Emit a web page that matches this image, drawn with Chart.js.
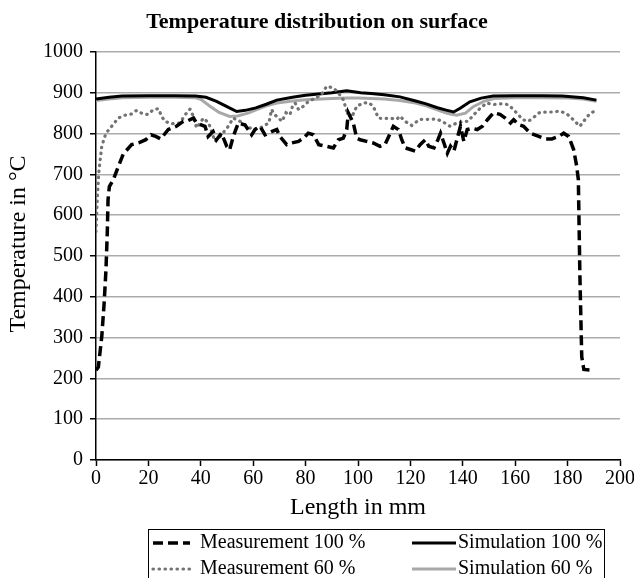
<!DOCTYPE html>
<html lang="en">
<head>
<meta charset="UTF-8">
<title>Temperature distribution on surface</title>
<style>
    html, body { margin: 0; padding: 0; background: #fff; }
</style>
</head>
<body>
<canvas id="tempChart" width="634" height="578"></canvas>

<script src="https://cdn.jsdelivr.net/npm/chart.js"></script>
<script>
    // values (x in mm, y in °C)
    const meas100X = [0, 0.9, 2.2, 3.1, 3.8, 4.3, 4.6, 5.1, 6.6, 8.5, 10.4, 13.6, 16.5, 19, 21, 22.8, 24.7, 27.6, 30.7, 33.3,
        35.2, 37.2, 38.4, 41.6, 42.8, 44.7, 46, 47.9, 49.9, 51, 52.4, 54.3, 56.9, 59.4, 60.7, 62.6, 64.5, 67, 69, 70.2,
        72.8, 74.7, 77.3, 79.2, 81, 83, 85, 88, 90.6, 92.5, 94.4, 95.7, 96.3, 98.2, 99.5, 100.8, 103.3, 105.8, 108.4, 110.3,
        112.3, 113.5, 115.4, 116.7, 118, 120, 121.8, 123.7, 125.7, 127, 129, 130.5, 131.5, 132.8, 134.1, 135.3, 136.6, 137.9, 139.1, 140.4,
        141.7, 143.6, 145.5, 147.5, 149.4, 151.7, 154.2, 156.2, 158.2, 159.4, 161.3, 163.2, 165.8, 169, 171.5, 174, 176.6, 178.5, 180.4, 182.3,
        183.5, 184.1, 184.7, 185.4, 186.2, 190];
    const meas100Y = [220, 228, 302, 384, 466, 556, 638, 670, 687, 719, 750, 773, 778, 785, 797, 793, 787, 810, 818, 830,
        832, 838, 826, 818, 793, 805, 785, 801, 769, 760, 793, 826, 821, 797, 810, 818, 797, 805, 810, 793,
        773, 777, 781, 789, 801, 797, 773, 769, 765, 785, 789, 810, 851, 826, 789, 785, 781, 777, 769, 773,
        801, 818, 810, 785, 765, 761, 757, 773, 785, 769, 765, 785, 801, 777, 752, 769, 757, 789, 818, 781,
        810, 813, 810, 818, 834, 851, 847, 838, 826, 834, 822, 818, 801, 793, 787, 787, 793, 801, 793, 761,
        719, 687, 450, 253, 222, 220];

    const meas60X = [0, 0.5, 1, 1.5, 2.2, 3.8, 6, 8.5, 11, 13.5, 15.5, 18, 19.8, 21.9, 23.8, 25.1, 26.3, 28.9, 32, 34,
        35.9, 37.2, 38.4, 41, 43, 45.4, 47.3, 50.5, 52.4, 55, 57.5, 60, 63, 66, 67, 68.3, 71, 72.5, 74, 75,
        76, 77.3, 79.2, 80.4, 83, 86, 88, 90.6, 92.5, 94.4, 95.7, 97.6, 99.5, 102, 104, 105.8, 107.8, 109.7, 112.3, 114.8,
        116, 118, 120.5, 123.6, 127.5, 130, 132.6, 135.1, 137.7, 140, 142, 144, 146.6, 149.1, 151.7, 154.2, 157.4, 159.3, 161.2, 163,
        165, 167.5, 169.4, 172, 174.5, 177, 179.6, 181.5, 183.4, 184.7, 186.6, 188.5, 190.5];
    const meas60Y = [560, 640, 700, 730, 769, 801, 818, 838, 845, 848, 857, 848, 847, 859, 861, 842, 830, 824, 826, 846,
        860, 842, 814, 838, 826, 781, 792, 818, 838, 830, 818, 810, 815, 826, 859, 846, 830, 851, 846, 867,
        875, 859, 867, 875, 885, 895, 916, 912, 900, 883, 855, 840, 867, 875, 876, 867, 838, 837, 838, 835,
        843, 830, 820, 835, 835, 836, 828, 818, 826, 830, 830, 845, 862, 875, 871, 873, 871, 859, 846, 834,
        830, 842, 852, 853, 853, 855, 849, 838, 826, 818, 834, 849, 856];

    const sim100X = [0, 5, 10, 20, 30, 38, 42, 46, 50, 53.7, 57, 61, 65, 69, 75, 80, 85, 90, 95.7, 97,
        101, 105, 110, 116, 122, 126, 130, 134, 136.5, 139, 142.7, 147, 151.6, 160, 170, 178, 186, 191];
    const sim100Y = [885, 889, 892, 893, 893, 892, 889, 879, 866, 854, 857, 863, 872, 882, 889, 894, 897, 900, 905, 904,
        900, 898, 895, 890, 880, 873, 864, 857, 853, 862, 878, 887, 892, 893, 893, 892, 888, 882];

    const sim60X = [0, 5, 10, 20, 30, 38, 40, 43.5, 47, 51, 54, 58, 61.3, 65, 69, 75, 80, 90, 95.7, 100,
        105, 110, 116, 122, 126, 130, 134, 137.7, 141, 144, 148, 152, 160, 170, 180, 186, 191];
    const sim60Y = [881, 885, 888, 889, 889, 888, 884, 867, 852, 842, 843, 850, 859, 868, 875, 880, 883, 886, 887, 887,
        886, 885, 881, 875, 868, 859, 850, 845, 850, 866, 879, 886, 888, 888, 887, 885, 879];

    const seriesLabels = ['Measurement 100 %', 'Measurement 60 %', 'Simulation 100 %', 'Simulation 60 %'];
    const xTicks = [0, 200, 20];   // min, max, step
    const yTicks = [0, 1000, 100];

    const serif = "'Liberation Serif', 'Times New Roman', serif";

    function toPoints(xs, ys) {
        return xs.map((x, i) => ({ x: x, y: ys[i] }));
    }

    // boxed two-column legend under the axis
    const boxLegend = {
        id: 'boxLegend',
        afterDraw(chart) {
            const ctx = chart.ctx;
            ctx.save();
            ctx.strokeStyle = '#000';
            ctx.lineWidth = 1;
            ctx.setLineDash([]);
            ctx.strokeRect(148.5, 529.5, 456, 70);

            const cols = [{ x0: 153, x1: 190, tx: 200 }, { x0: 412, x1: 456, tx: 458 }];
            const rows = [543, 569];
            chart.data.datasets.forEach((ds, i) => {
                const c = cols[i < 2 ? 0 : 1];
                const y = rows[i % 2];
                ctx.beginPath();
                ctx.setLineDash(ds.borderDash || []);
                ctx.lineCap = ds.borderCapStyle || 'butt';
                ctx.lineWidth = ds.borderWidth;
                ctx.strokeStyle = ds.borderColor;
                ctx.moveTo(c.x0, y);
                ctx.lineTo(c.x1, y);
                ctx.stroke();

                ctx.setLineDash([]);
                ctx.fillStyle = '#000';
                ctx.font = '20px ' + serif;
                ctx.textBaseline = 'middle';
                ctx.textAlign = 'left';
                ctx.fillText(ds.label, c.tx, y);
            });
            ctx.restore();
        }
    };

    const ctx = document.getElementById('tempChart').getContext('2d');

    const tempChart = new Chart(ctx, {
        type: 'line',
        data: {
            datasets: [{
                label: seriesLabels[0],
                data: toPoints(meas100X, meas100Y),
                borderColor: '#000',
                borderWidth: 3.5,
                borderDash: [10, 5],
                pointRadius: 0
            }, {
                label: seriesLabels[1],
                data: toPoints(meas60X, meas60Y),
                borderColor: '#737373',
                borderWidth: 3.2,
                borderDash: [0.5, 5.5],
                borderCapStyle: 'round',
                pointRadius: 0
            }, {
                label: seriesLabels[2],
                data: toPoints(sim100X, sim100Y),
                borderColor: '#000',
                borderWidth: 3,
                pointRadius: 0
            }, {
                label: seriesLabels[3],
                data: toPoints(sim60X, sim60Y),
                borderColor: '#a8a8a8',
                borderWidth: 3,
                pointRadius: 0
            }]
        },
        options: {
            responsive: false,
            animation: false,
            devicePixelRatio: 1,
            layout: { padding: { left: 0, right: 0, top: 0, bottom: 56 } },
            plugins: {
                legend: { display: false },
                tooltip: { enabled: false },
                title: {
                    display: true,
                    text: 'Temperature distribution on surface',
                    color: '#000',
                    font: { family: serif, size: 22, weight: 'bold' },
                    padding: { top: 8.8, bottom: 16.8 }
                }
            },
            scales: {
                x: {
                    type: 'linear',
                    min: xTicks[0],
                    max: xTicks[1],
                    ticks: {
                        stepSize: xTicks[2],
                        color: '#000',
                        font: { family: serif, size: 20 },
                        padding: 1,
                        maxRotation: 0
                    },
                    grid: { drawOnChartArea: false, tickLength: 6, tickColor: '#000', tickWidth: 1.5 },
                    border: { color: '#000', width: 1.5 },
                    title: {
                        display: true,
                        text: 'Length in mm',
                        color: '#000',
                        font: { family: serif, size: 24 },
                        padding: { top: 0, bottom: 0 }
                    },
                    afterFit(scale) {
                        scale.height = 62;
                        scale.paddingRight = 14;   // let the "200" label run to the edge
                    }
                },
                y: {
                    min: yTicks[0],
                    max: yTicks[1],
                    ticks: {
                        stepSize: yTicks[2],
                        color: '#000',
                        font: { family: serif, size: 20 },
                        padding: 7,
                        callback: (v) => String(v)
                    },
                    grid: { color: '#ababab', lineWidth: 1.5, tickLength: 6, tickColor: '#000', tickWidth: 1.5 },
                    border: { color: '#000', width: 1.5 },
                    title: {
                        display: true,
                        // leading spaces nudge the label up a little, as in the original
                        text: '    Temperature in °C',
                        color: '#000',
                        font: { family: serif, size: 24 },
                        padding: { top: 4.6, bottom: 0 }
                    },
                    afterFit(scale) { scale.width = 96; }
                }
            }
        },
        plugins: [boxLegend]
    });
</script>
</body>
</html>
